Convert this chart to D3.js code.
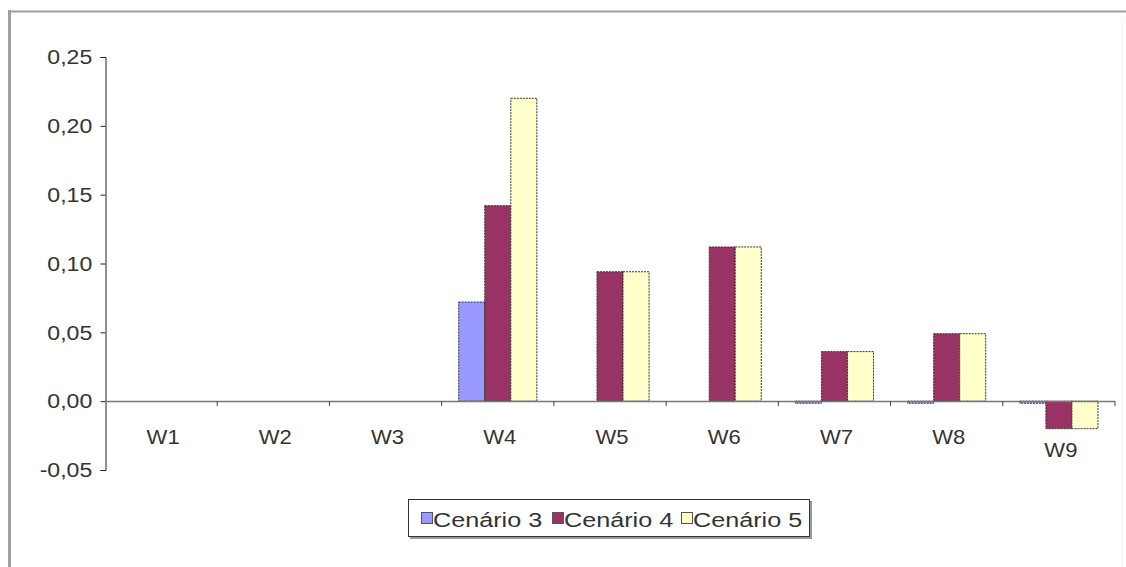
<!DOCTYPE html>
<html>
<head>
<meta charset="utf-8">
<script src="https://cdn.jsdelivr.net/npm/d3@7"></script>
<style>
  html, body { margin: 0; padding: 0; background: #fff; }
  svg { display: block; }
  text { font-family: "Liberation Sans", Arial, sans-serif; fill: #333; }
</style>
</head>
<body>
<svg id="chart" width="1126" height="567"></svg>
<script>
const categories = ["W1", "W2", "W3", "W4", "W5", "W6", "W7", "W8", "W9"];
const seriesNames = ["Cenário 3", "Cenário 4", "Cenário 5"];
const cenario3 = [0, 0, 0, 0.072, 0, 0, -0.0015, -0.0015, -0.0015];
const cenario4 = [0, 0, 0, 0.142, 0.094, 0.112, 0.036, 0.049, -0.02];
const cenario5 = [0, 0, 0, 0.220, 0.094, 0.112, 0.036, 0.049, -0.02];
const yTicks = [-0.05, 0, 0.05, 0.10, 0.15, 0.20, 0.25];
const colors = ["#9999FF", "#993366", "#FFFFCC"];

const seriesValues = [cenario3, cenario4, cenario5];
const svg = d3.select("#chart");

// outer frame
svg.append("line").attr("x1", 9).attr("x2", 1126).attr("y1", 11.5).attr("y2", 11.5)
  .attr("stroke", "#a0a0a0").attr("stroke-width", 2);
svg.append("line").attr("x1", 9.5).attr("x2", 9.5).attr("y1", 10).attr("y2", 567)
  .attr("stroke", "#a0a0a0").attr("stroke-width", 3);
svg.append("line").attr("x1", 1122.5).attr("x2", 1122.5).attr("y1", 20).attr("y2", 567)
  .attr("stroke", "#f0f0f0").attr("stroke-width", 1);

const x = d3.scaleBand().domain(categories).range([105, 1115]).padding(0);
const xs = d3.scaleBand().domain(seriesNames).range([0, x.bandwidth()])
  .paddingInner(0).paddingOuter(0.654);
const y = d3.scaleLinear().domain([-0.05, 0.25]).range([470, 57]);

// bars
seriesNames.forEach((s, si) => {
  svg.append("g").selectAll("rect")
    .data(categories.map((c, i) => ({ c, v: seriesValues[si][i] })).filter(d => d.v !== 0))
    .join("rect")
    .attr("x", d => x(d.c) + xs(s))
    .attr("width", xs.bandwidth())
    .attr("y", d => y(Math.max(0, d.v)))
    .attr("height", d => Math.abs(y(d.v) - y(0)))
    .attr("fill", colors[si])
    .attr("stroke", "#333")
    .attr("stroke-width", 1)
    .attr("stroke-dasharray", "2,1");
});

// y axis
const yAxis = d3.axisLeft(y).tickValues(yTicks).tickSize(5).tickPadding(8)
  .tickFormat(d => d3.format(".2f")(d).replace(".", ",").replace("\u2212", "-"));
const gy = svg.append("g").attr("transform", "translate(105.5,0)").call(yAxis);
gy.select(".domain").attr("stroke", "#222");
gy.selectAll(".tick line").attr("stroke", "#222");
gy.selectAll(".tick text").attr("font-size", 21).attr("fill", "#333")
  .attr("x", -12).attr("transform", "scale(1.1,1)")
  .style("font-family", '"Liberation Sans", Arial, sans-serif');

// zero line (x axis)
svg.append("line").attr("x1", 105).attr("x2", 1115)
  .attr("y1", Math.round(y(0)) + 0.5).attr("y2", Math.round(y(0)) + 0.5)
  .attr("stroke", "#777").attr("stroke-width", 1.5);
// x ticks at category boundaries
svg.append("g").selectAll("line").data(categories.slice(1).concat(["end"]))
  .join("line")
  .attr("x1", (d, i) => i < categories.length - 1 ? x(d) : x.range()[1])
  .attr("x2", (d, i) => i < categories.length - 1 ? x(d) : x.range()[1])
  .attr("y1", y(0)).attr("y2", y(0) + 5)
  .attr("stroke", "#444");

// x labels (pushed below negative bars)
svg.append("g").selectAll("text").data(categories).join("text")
  .attr("transform", (d, i) => {
    const minV = Math.min(0, ...seriesValues.map(a => a[i]).filter(v => v < -0.005));
    const ty = minV < 0 ? y(minV) + 28 : y(0) + 43;
    return `translate(${x(d) + x.bandwidth() / 2 + 2},${ty}) scale(1.05,1)`;
  })
  .attr("text-anchor", "middle")
  .attr("font-size", 21)
  .text(d => d);

// legend
const lg = svg.append("g");
lg.append("rect").attr("x", 410).attr("y", 501).attr("width", 402).attr("height", 38)
  .attr("fill", "#999");
lg.append("rect").attr("x", 408.5).attr("y", 499.5).attr("width", 401).attr("height", 37)
  .attr("fill", "#fff").attr("stroke", "#333").attr("stroke-width", 1);
const legendX = [421, 552, 681];
seriesNames.forEach((s, i) => {
  lg.append("rect").attr("x", legendX[i] + 0.5).attr("y", 512.5).attr("width", 11).attr("height", 11)
    .attr("fill", colors[i]).attr("stroke", "#555").attr("stroke-width", 1);
  lg.append("text").attr("transform", `translate(${legendX[i] + 12},527) scale(1.2,1)`)
    .attr("font-size", 21).text(s);
});
</script>
</body>
</html>
